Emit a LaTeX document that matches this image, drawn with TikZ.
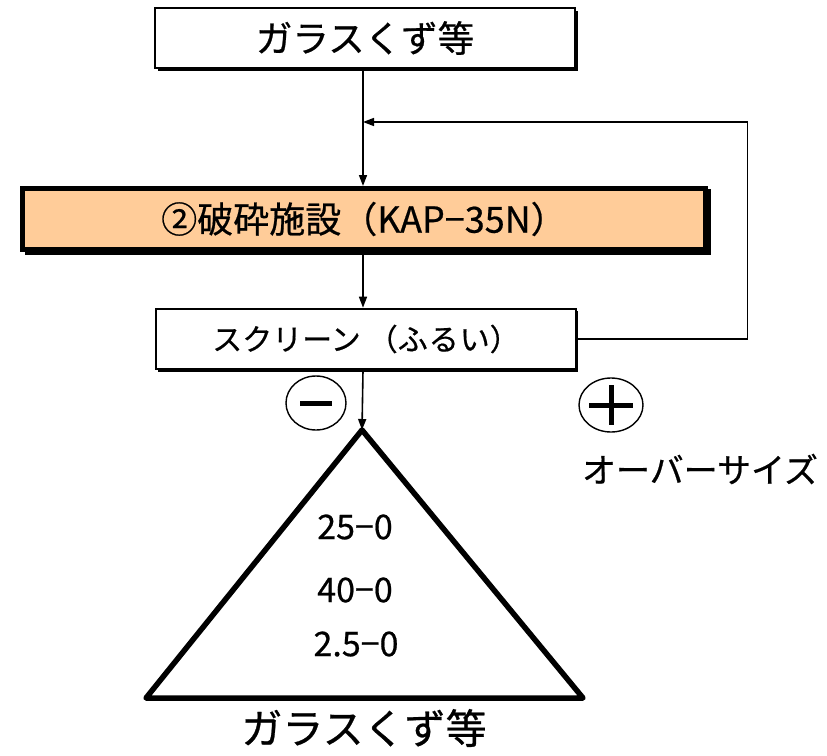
\documentclass[tikz,border=0pt]{standalone}
\usepackage{fontspec}
\setmainfont{Noto Sans CJK JP}[FakeBold=0.6]
\usetikzlibrary{arrows.meta,calc,shapes.geometric}
\definecolor{crushfill}{HTML}{FFCC99}
\begin{document}
\begin{tikzpicture}[x=1pt,y=-1pt,
  flow/.style={line width=1.6pt,-{Triangle[length=11pt,width=8pt]}},
  boxA/.style={draw,line width=2.6pt,fill=white,minimum width=420pt,minimum height=60pt,inner sep=0pt},
  boxB/.style={draw,line width=5pt,fill=crushfill,minimum width=683pt,minimum height=61pt,inner sep=0pt},
  sign/.style={draw,line width=1.4pt,ellipse,minimum width=60pt,minimum height=54pt,inner sep=0pt},
  lbl/.style={inner sep=0pt}]
\useasboundingbox (0,0) rectangle (827,755);
% shadows
\fill (158,11) rectangle (578,71);
\fill (25,189) rectangle (711,255);
\fill (158,311) rectangle (578,372);
% boxes
\node[boxA] (top) at (365,38) {\fontsize{36.5}{40}\selectfont ガラスくず等};
\node[boxB] (crush) at (364,219) {\fontsize{36}{40}\selectfont ②破砕施設（KAP−35N）};
\node[boxA] (screen) at (366,339) {\fontsize{30}{36}\selectfont スクリーン\hspace{7pt}（ふ\hspace{1pt}る\hspace{1pt}い）};
% triangle
\coordinate (apex) at (362,430);
\coordinate (bl) at (146,698);
\coordinate (br) at (583,698);
\draw[line width=5.5pt,line join=round,line cap=round] (apex) -- (br) -- (bl) -- cycle;
\node[lbl] (n1) at (355,527) {\fontsize{34}{40}\selectfont 25−0};
\node[lbl] (n2) at (355,590) {\fontsize{34}{40}\selectfont 40−0};
\node[lbl] (n3) at (356,644) {\fontsize{34}{40}\selectfont 2.5−0};
\node[lbl] (bottom) at (364,728) {\fontsize{41}{46}\selectfont ガラスくず等};
% signs
\node[sign] (minus) at (316,403) {};
\draw[line width=5pt] ($(minus.center)+(-16,0)$) -- ($(minus.center)+(16,0)$);
\node[sign,minimum width=64pt] (plus) at (611,405) {};
\draw[line width=5pt] ($(plus.center)+(-22,0)$) -- ($(plus.center)+(22,0)$);
\draw[line width=5pt] ($(plus.center)+(0,-20)$) -- ($(plus.center)+(0,20)$);
\node[lbl] (over) at (700,469) {\fontsize{34}{38}\selectfont オーバーサイズ};
% connectors
\coordinate (fb) at (363,122);
\draw[flow] (top.south -| fb) -- (crush.north -| fb);
\draw[flow] (crush.south -| fb) -- (screen.north -| fb);
\draw[flow] (screen.south -| fb) -- (apex);
\draw[flow] (screen.east) -- ++(170,0) |- (fb);
\end{tikzpicture}
\end{document}
